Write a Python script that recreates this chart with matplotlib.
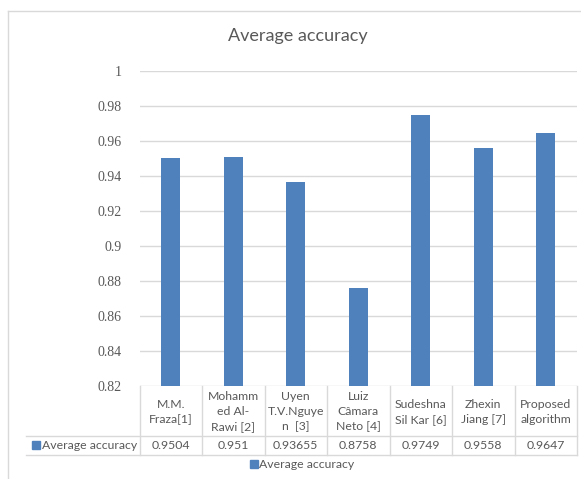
import matplotlib
matplotlib.use("Agg")
import matplotlib.pyplot as plt
from matplotlib.transforms import blended_transform_factory
from matplotlib.patches import Rectangle
from matplotlib.lines import Line2D

categories = [
    "M.M.\nFraza[1]",
    "Mohamm\ned Al-\nRawi [2]",
    "Uyen\nT.V.Nguye\nn  [3]",
    "Luiz\nCâmara\nNeto [4]",
    "Sudeshna\nSil Kar [6]",
    "Zhexin\nJiang [7]",
    "Proposed\nalgorithm",
]
values = [0.9504, 0.951, 0.93655, 0.8758, 0.9749, 0.9558, 0.9647]
value_labels = ["0.9504", "0.951", "0.93655", "0.8758", "0.9749", "0.9558", "0.9647"]
yticks = [0.82, 0.84, 0.86, 0.88, 0.90, 0.92, 0.94, 0.96, 0.98, 1.0]
ytick_labels = ["0.82", "0.84", "0.86", "0.88", "0.9", "0.92", "0.94", "0.96", "0.98", "1"]
series_name = "Average accuracy"
title = "Average accuracy"

BAR = "#4f81bd"
GRID = "#d9d9d9"
TXT = "#595959"
FONT = ["Lato", "DejaVu Sans"]

W, H = 581, 479
fig = plt.figure(figsize=(W / 100, H / 100), dpi=100)


def fy(py):
    """Convert a pixel row (from top) to figure fraction."""
    return 1 - py / H


def fx(px):
    return px / W


# outer chart frame (left and top edges)
fig.add_artist(Line2D([fx(8), fx(8)], [fy(11), 0], transform=fig.transFigure,
                      color=GRID, lw=1))
fig.add_artist(Line2D([fx(8), 1], [fy(11), fy(11)], transform=fig.transFigure,
                      color=GRID, lw=1))

# plot area
left, right, top, bottom = 139.5, 577, 71, 386
ax = fig.add_axes([fx(left), fy(bottom), fx(right - left), (bottom - top) / H])
x = list(range(len(values)))
ax.bar(x, values, width=0.31, color=BAR, zorder=3)
ax.set_xlim(-0.5, len(values) - 0.5)
ax.set_ylim(0.82, 1.0)
ax.set_yticks(yticks)
ax.set_yticklabels(ytick_labels, family=["Liberation Serif"], fontsize=10, color=TXT)
ax.tick_params(axis="y", length=0, pad=13)
ax.set_xticks([])
for s in ax.spines.values():
    s.set_visible(False)
ax.yaxis.grid(True, color=GRID, lw=1)
ax.set_axisbelow(True)
ax.patch.set_alpha(0)

fig.text(fx(298), fy(36), title, ha="center", va="center", fontsize=13,
         color=TXT, family=FONT)

# data table under the plot, columns aligned with the categories
tr = blended_transform_factory(ax.transData, fig.transFigure)
row1, row2, row3 = bottom, 435.5, 455
n = len(values)
for i in range(n + 1):
    fig.add_artist(Line2D([i - 0.5, i - 0.5], [fy(row1), fy(row3)], transform=tr,
                          color=GRID, lw=1))
for yy in (row2, row3):
    fig.add_artist(Line2D([fx(26), fx(right)], [fy(yy), fy(yy)],
                          transform=fig.transFigure, color=GRID, lw=1))

for i, (cat, lab) in enumerate(zip(categories, value_labels)):
    fig.text(i, fy((row1 + row2) / 2 + 1), cat, transform=tr, ha="center",
             va="center", fontsize=8.8, color=TXT, family=FONT, linespacing=1.45)
    fig.text(i, fy((row2 + row3) / 2 + 0.5), lab, transform=tr, ha="center",
             va="center", fontsize=8.8, color=TXT, family=FONT)

# series key inside the table
fig.add_artist(Rectangle((fx(32), fy(449)), 8 / W, 8 / H, transform=fig.transFigure,
                         color=BAR))
fig.text(fx(42), fy((row2 + row3) / 2 + 0.5), series_name, ha="left", va="center",
         fontsize=8.8, color=TXT, family=FONT)

# legend below the table
fig.add_artist(Rectangle((fx(250), fy(468)), 8 / W, 8 / H, transform=fig.transFigure,
                         color=BAR))
fig.text(fx(259), fy(464), series_name, ha="left", va="center",
         fontsize=8.8, color=TXT, family=FONT)

fig.savefig("out.png", dpi=100)
